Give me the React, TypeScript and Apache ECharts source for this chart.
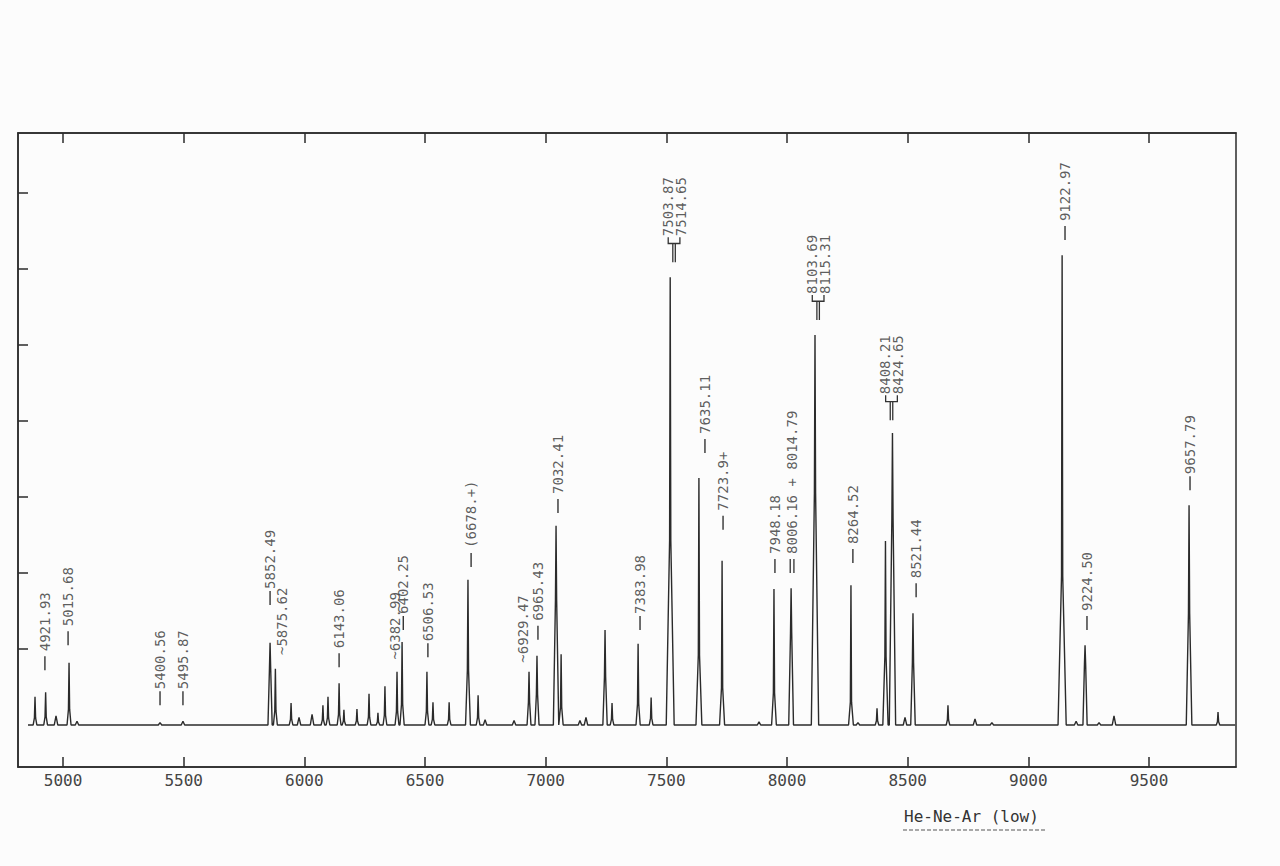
import React, { useEffect, useRef } from "react";
import * as echarts from "echarts";

const FONT = "'DejaVu Sans Mono', 'Liberation Mono', monospace";

const xTickValues = [5000, 5500, 6000, 6500, 7000, 7500, 8000, 8500, 9000, 9500];
const yTickValues = [1, 2, 3, 4, 5, 6, 7];

// emission lines (wavelength on the drawn axis, height in tick units)
const peakLambda = [
  4884, 4928, 4971, 5025, 5058, 5402, 5497, 5858, 5880, 5945, 5978, 6032, 6077, 6098,
  6144, 6164, 6218, 6268, 6305, 6334, 6384, 6405, 6508, 6533, 6600, 6678, 6720, 6749,
  6869, 6931, 6964, 7043, 7064, 7142, 7167, 7246, 7275, 7383, 7437, 7516, 7635, 7731,
  7884, 7946, 8017, 8116, 8265, 8294, 8373, 8408, 8437, 8489, 8522, 8667, 8779, 8849,
  9140, 9198, 9235, 9293, 9355, 9666, 9786,
];
const peakHeight = [
  0.37, 0.43, 0.12, 0.82, 0.05, 0.03, 0.05, 1.08, 0.74, 0.29, 0.1, 0.14, 0.26, 0.37,
  0.55, 0.2, 0.21, 0.41, 0.16, 0.51, 0.7, 1.09, 0.7, 0.3, 0.3, 1.91, 0.39, 0.07,
  0.06, 0.7, 0.91, 2.62, 0.93, 0.06, 0.1, 1.25, 0.29, 1.07, 0.36, 5.89, 3.25, 2.16,
  0.04, 1.79, 1.8, 5.13, 1.84, 0.03, 0.22, 2.42, 3.84, 0.1, 1.47, 0.26, 0.08, 0.03,
  6.18, 0.05, 1.05, 0.03, 0.12, 2.89, 0.17,
];
const peakShoulder = [
  0, 0, 0, 0, 0, 0, 0, 0.75, 0, 0, 0, 0, 0, 0,
  0, 0, 0, 0, 0, 0, 0, 0, 0, 0, 0, 0.72, 0, 0,
  0, 0.3, 0.4, 1.64, 0, 0, 0, 0.63, 0, 0.28, 0, 2.43, 0.92, 0.49,
  0, 0.42, 1.21, 3.05, 0.3, 0, 0, 0.9, 2.72, 0, 0.82, 0, 0, 0,
  1.96, 0, 0.8, 0, 0, 1.47, 0,
];
const traceStart = 4855;
const traceEnd = 9857;

// line identifications (leading mark: "—" dash, "=" double dash, "=⊏" doublet bracket)
const labelTexts = [
  "— 4921.93", "— 5015.68", "—5400.56", "—5495.87", "—5852.49", "~5875.62",
  "— 6143.06", "~6382.99", "—6402.25", "—6506.53", "— (6678.+)", "~6929.47",
  "— 6965.43", "— 7032.41", "—7383.98", "=⊏7503.87\n7514.65",
  "— 7635.11", "— 7723.9+", "— 7948.18", "= 8006.16 + 8014.79",
  "=⊏8103.69\n8115.31", "— 8264.52", "=⊏8408.21\n8424.65",
  "— 8521.44", "— 9122.97", "— 9224.50", "—9657.79",
];
const labelLambda = [
  4925, 5021, 5402, 5497, 5858, 5907,
  6144, 6374, 6410, 6512, 6691, 6906,
  6968, 7051, 7391, 7532,
  7660, 7735, 7950, 8021,
  8129, 8273, 8433,
  8535, 9152, 9243, 9670,
];
const labelLevel = [
  0.72, 1.05, 0.26, 0.26, 1.58, 0.92,
  0.76, 0.86, 1.25, 0.89, 2.08, 0.82,
  1.12, 2.79, 1.25, 6.09,
  3.58, 2.57, 2.0, 2.0,
  5.33, 2.13, 4.01,
  1.68, 6.38, 1.25, 3.09,
];

const DASH_LEN = 14;
const BRACKET_H = 25;
const MARK_PATHS: Record<string, { path: string; w: number; h: number }> = {
  dash: { path: "path://M0,0h1.4v14h-1.4z", w: 1.4, h: DASH_LEN },
  eq: { path: "path://M0,0h1.3v14h-1.3z M3.7,0h1.3v14h-1.3z", w: 5, h: DASH_LEN },
  bracket: {
    path:
      "path://M0,0h1.3v7h-1.3z M0,5.7h13v1.3h-13z M11.7,0h1.3v7h-1.3z M4.6,7h1.3v18h-1.3z M7.1,7h1.3v18h-1.3z",
    w: 13,
    h: BRACKET_H,
  },
};

function parseLabel(raw: string) {
  if (raw.startsWith("=⊏")) return { mark: "bracket", text: raw.slice(2), gap: 1 };
  if (raw.startsWith("—")) {
    const rest = raw.slice(1);
    return { mark: "dash", text: rest.trimStart(), gap: rest.startsWith(" ") ? 5 : 2 };
  }
  if (raw.startsWith("=")) {
    const rest = raw.slice(1);
    return { mark: "eq", text: rest.trimStart(), gap: 5 };
  }
  return { mark: "", text: raw, gap: 0 };
}

function buildTrace(): number[][] {
  const n = peakLambda.length;
  const left: number[] = [];
  const right: number[] = [];
  for (let i = 0; i < n; i++) {
    const w = 7 + 1.6 * peakHeight[i];
    left.push(peakLambda[i] - w);
    right.push(peakLambda[i] + w);
  }
  for (let i = 0; i < n - 1; i++) {
    if (right[i] > left[i + 1]) {
      const m = (peakLambda[i] + peakLambda[i + 1]) / 2;
      right[i] = m;
      left[i + 1] = m;
    }
  }
  const pts: number[][] = [[traceStart, 0]];
  for (let i = 0; i < n; i++) {
    const c = peakLambda[i];
    const h = peakHeight[i];
    const s = peakShoulder[i] || h * 0.25;
    pts.push([left[i], 0]);
    if (h > 0.15) pts.push([c - 2.5, s]);
    pts.push([c, h]);
    if (h > 0.15) pts.push([c + 2.5, s]);
    pts.push([right[i], 0]);
  }
  pts.push([traceEnd, 0]);
  return pts;
}

export default function App() {
  const ref = useRef<HTMLDivElement>(null);
  useEffect(() => {
    if (!ref.current) return;
    const chart = echarts.init(ref.current, undefined, { renderer: "svg" });
    const ink = "#2b2b2b";
    const xMin = 4813.5;
    const xMax = 9860.5;

    const parsed = labelTexts.map(parseLabel);
    const markData: any[] = [];
    const textData: any[] = [];
    parsed.forEach((p, i) => {
      const value = [labelLambda[i], labelLevel[i]];
      let lift = 0;
      if (p.mark) {
        const m = MARK_PATHS[p.mark];
        markData.push({
          value,
          symbol: m.path,
          symbolSize: [m.w, m.h],
          symbolOffset: [0, -m.h / 2],
        });
        lift = m.h + p.gap;
      }
      textData.push({ value, name: p.text, label: { position: [0, -lift] } });
    });

    const option: any = {
      animation: false,
      backgroundColor: "#fcfcfc",
      color: ["#333"],
      grid: {
        left: 18, right: 44, top: 133, bottom: 99,
        show: true, borderColor: ink, borderWidth: 1.5, backgroundColor: "transparent",
      },
      xAxis: [
        {
          type: "value", min: xMin, max: xMax, position: "bottom",
          axisLine: { show: true, onZero: false, lineStyle: { color: ink, width: 1.5 } },
          axisTick: { show: true, inside: true, length: 10, customValues: xTickValues, lineStyle: { color: ink, width: 1.5 } },
          axisLabel: {
            show: true, customValues: xTickValues, color: "#444", fontSize: 16,
            fontFamily: FONT, margin: 5, formatter: (v: number) => String(v),
          },
          splitLine: { show: false },
        },
        {
          type: "value", min: xMin, max: xMax, position: "top",
          axisLine: { show: true, onZero: false, lineStyle: { color: ink, width: 1.5 } },
          axisTick: { show: true, inside: true, length: 10, customValues: xTickValues, lineStyle: { color: ink, width: 1.5 } },
          axisLabel: { show: false },
          splitLine: { show: false },
        },
      ],
      yAxis: {
        type: "value", min: -0.553, max: 7.789,
        axisLine: { show: true, onZero: false, lineStyle: { color: ink, width: 1.5 } },
        axisTick: { show: true, inside: true, length: 10, customValues: yTickValues, lineStyle: { color: ink, width: 1.5 } },
        axisLabel: { show: false },
        splitLine: { show: false },
      },
      series: [
        {
          type: "line",
          data: buildTrace(),
          showSymbol: false,
          symbol: "none",
          lineStyle: { color: ink, width: 1.4 },
          itemStyle: { color: ink },
          silent: true,
        },
        {
          type: "scatter",
          silent: true,
          itemStyle: { color: "#333", opacity: 1 },
          data: markData,
        },
        {
          type: "scatter",
          symbolSize: 0,
          silent: true,
          itemStyle: { color: "#333" },
          data: textData,
          label: {
            show: true,
            rotate: 90,
            align: "left",
            verticalAlign: "middle",
            formatter: (p: any) => p.name,
            fontFamily: FONT,
            fontSize: 14,
            lineHeight: 13,
            color: "#333",
          },
        },
      ],
      graphic: [
        {
          type: "text", left: 904, top: 808,
          style: { text: "He-Ne-Ar (low)", fontFamily: FONT, fontSize: 16, fill: "#333" },
        },
        {
          type: "line",
          shape: { x1: 903, y1: 830, x2: 1047, y2: 830 },
          style: { stroke: "#555", lineWidth: 1.2, lineDash: [4, 2] },
        },
      ],
    };
    chart.setOption(option);
    return () => chart.dispose();
  }, []);
  return (
    <div
      ref={ref}
      style={{ position: "fixed", left: 0, top: 0, width: "1280px", height: "866px" }}
    />
  );
}
